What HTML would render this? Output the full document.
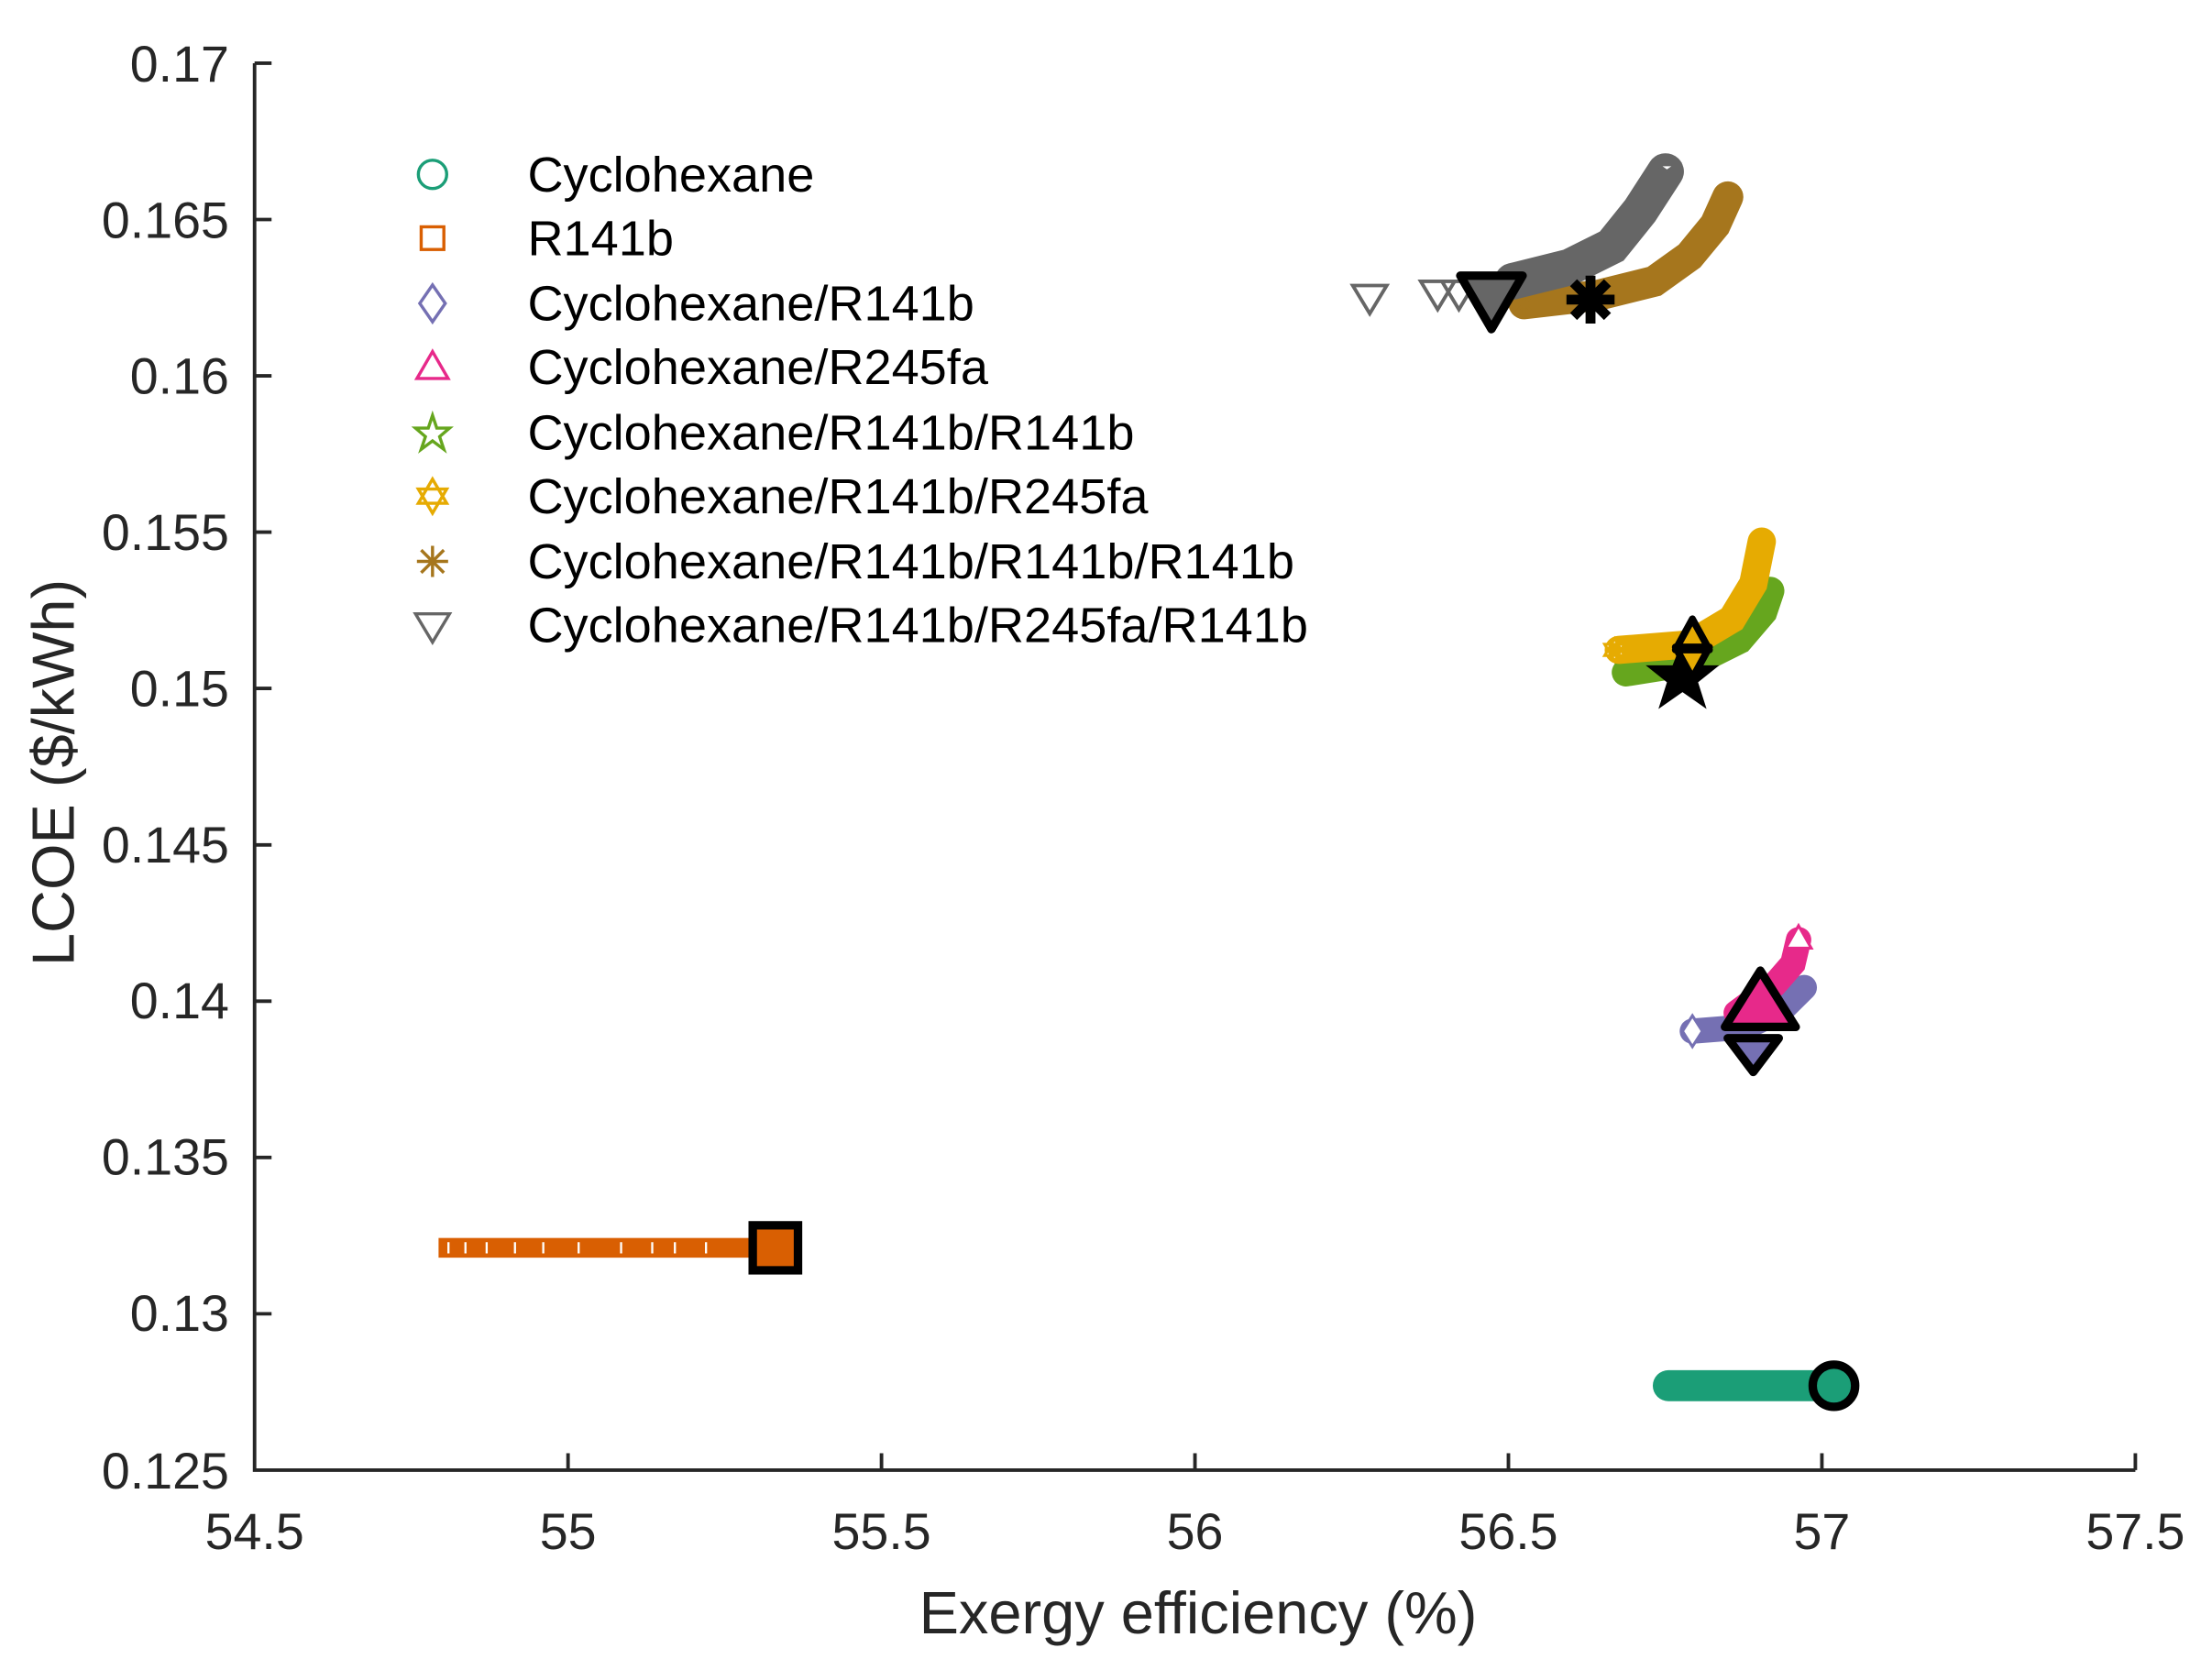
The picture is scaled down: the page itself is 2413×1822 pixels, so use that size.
<!DOCTYPE html>
<html><head><meta charset="utf-8"><style>html,body{margin:0;padding:0;background:#fff}svg{display:block}</style></head>
<body>
<svg width="2413" height="1822" viewBox="0 0 1560 1178" xmlns="http://www.w3.org/2000/svg" font-family="Liberation Sans, Arial, sans-serif">
<rect width="1560" height="1178" fill="#fff"/>
<g transform="matrix(0.99812 0 0 0.9924 -1.16 -0.06)">
<!-- axes -->
<g stroke="#262626" stroke-width="2.5" fill="none">
<path d="M181,45 V1045 H1510"/>
<path d="M181,45 h12 M181,156.1 h12 M181,267.2 h12 M181,378.3 h12 M181,489.4 h12 M181,600.6 h12 M181,711.7 h12 M181,822.8 h12 M181,933.9 h12"/>
<path d="M402.5,1045 v-12 M624,1045 v-12 M845.5,1045 v-12 M1067,1045 v-12 M1288.5,1045 v-12 M1510,1045 v-12"/>
</g>
<g fill="#262626" font-size="36" text-anchor="end">
<text x="163" y="58">0.17</text><text x="163" y="169">0.165</text><text x="163" y="280">0.16</text><text x="163" y="391">0.155</text><text x="163" y="502">0.15</text><text x="163" y="613">0.145</text><text x="163" y="724">0.14</text><text x="163" y="835">0.135</text><text x="163" y="946">0.13</text><text x="163" y="1058">0.125</text>
</g>
<g fill="#262626" font-size="36" text-anchor="middle">
<text x="181" y="1101">54.5</text><text x="402.5" y="1101">55</text><text x="624" y="1101">55.5</text><text x="845.5" y="1101">56</text><text x="1067" y="1101">56.5</text><text x="1288.5" y="1101">57</text><text x="1510" y="1101">57.5</text>
</g>

<!-- Cyclohexane -->
<path d="M1180,985 H1297" stroke="#1b9e77" stroke-width="22" stroke-linecap="round"/>
<circle cx="1297" cy="985" r="15" fill="#1b9e77" stroke="#000" stroke-width="6"/>
<!-- R141b -->
<rect x="311" y="880" width="238" height="14" fill="#d95f02"/>
<g stroke="#fff" stroke-width="1.5"><path d="M318,883v8M330,883v8M345,883v8M365,883v8M385,883v8M410,883v8M440,883v8M462,883v8M478,883v8M500,883v8"/></g>
<rect x="533" y="871" width="32" height="32" fill="#d95f02" stroke="#000" stroke-width="6"/>
<!-- Cyclohexane/R141b diamonds -->
<path d="M1197,733 L1235,730 L1260,718 L1276,702" stroke="#7570b3" stroke-width="18" fill="none" stroke-linecap="round"/>
<path d="M1197,722 l7,11 l-7,11 l-7,-11z" fill="#fff" stroke="#7570b3" stroke-width="2"/>
<!-- R245fa triangles -->
<path d="M1228,720 L1255,700 L1268,685 L1272,668" stroke="#e7298a" stroke-width="18" fill="none" stroke-linecap="round"/>
<path d="M1272,658 l9,16 h-18z" fill="#fff" stroke="#e7298a" stroke-width="2"/>
<path d="M1222,738 L1258,738 L1240,762 Z" fill="#7570b3" stroke="#000" stroke-width="6" stroke-linejoin="round"/>
<path d="M1245,690 L1270,730 L1220,730 Z" fill="#e7298a" stroke="#000" stroke-width="6" stroke-linejoin="round"/>
<!-- stars green -->
<path d="M1150,478 L1200,470 L1230,455 L1247,435 L1252,420" stroke="#66a61e" stroke-width="20" fill="none" stroke-linecap="round"/>
<!-- hexagram yellow -->
<path d="M1145,462 L1195,458 L1225,440 L1240,415 L1246,385" stroke="#e6ab02" stroke-width="20" fill="none" stroke-linecap="round"/>
<g fill="#fff" stroke="#e6ab02" stroke-width="2"><path d="M1142,454 l7,12 h-14z M1142,470 l7,-12 h-14z"/></g>
<path d="M1190,455 L1197,473 L1216,473 L1201,485 L1207,504 L1190,492 L1173,504 L1179,485 L1164,473 L1183,473 Z" fill="#000"/>
<path d="M1197,440 L1209,462 L1185,462Z M1197,482 L1209,460 L1185,460Z" fill="#e6ab02" stroke="#000" stroke-width="5" stroke-linejoin="round"/>
<!-- brown asterisks -->
<path d="M1078,216 L1130,210 L1170,200 L1195,182 L1213,160 L1222,140" stroke="#a6761d" stroke-width="22" fill="none" stroke-linecap="round"/>
<g stroke="#a6761d" stroke-width="2"><path d="M1078,208v16M1070,216h16M1072,210l12,12M1084,210l-12,12"/></g>
<!-- gray triangles -->
<path d="M1070,200 L1110,190 L1140,175 L1160,150 L1178,122" stroke="#666" stroke-width="26" fill="none" stroke-linecap="round"/>
<g fill="#fff" stroke="#666" stroke-width="2.5"><path d="M957,203 h24 l-12,20z M1005,200 h24 l-12,20z M1020,200 h24 l-12,20z M1172,117 h14 l-7,5z"/></g>
<path d="M1033,196 L1077,196 L1055,234 Z" fill="#666" stroke="#000" stroke-width="6" stroke-linejoin="round"/>
<g stroke="#000" stroke-width="7"><path d="M1125,196v34M1108,213h34M1113,201l24,24M1137,201l-24,24"/></g>
</g>

<text x="845" y="1152" font-size="42" text-anchor="middle" fill="#262626">Exergy efficiency (%)</text>
<text transform="translate(52,545) rotate(-90)" font-size="42" text-anchor="middle" fill="#262626">LCOE ($/kWh)</text>

<!-- legend -->
<g fill="none" stroke-width="2.2">
<circle cx="305" cy="123" r="10" stroke="#1b9e77"/>
<rect x="297" y="160" width="16" height="16" stroke="#d95f02"/>
<path d="M305,201 l9,13 l-9,13 l-9,-13z" stroke="#7570b3"/>
<path d="M305,248 l11,19 h-22z" stroke="#e7298a"/>
<path d="M305,293 L308,302 L317,302 L310,308 L313,317 L305,311 L297,317 L300,308 L293,302 L302,302 Z" stroke="#66a61e"/>
<path d="M305,338 l10,17 h-20z M305,362 l10,-17 h-20z" stroke="#e6ab02"/>
<path d="M305,385v22M294,396h22M297,388l16,16M313,388l-16,16" stroke="#a6761d"/>
<path d="M293,433 h24 l-12,20z" stroke="#666"/>
</g>
<g font-size="35" fill="#000">
<text x="372" y="135">Cyclohexane</text>
<text x="372" y="180">R141b</text>
<text x="372" y="226">Cyclohexane/R141b</text>
<text x="372" y="271">Cyclohexane/R245fa</text>
<text x="372" y="317">Cyclohexane/R141b/R141b</text>
<text x="372" y="362">Cyclohexane/R141b/R245fa</text>
<text x="372" y="408">Cyclohexane/R141b/R141b/R141b</text>
<text x="372" y="453">Cyclohexane/R141b/R245fa/R141b</text>
</g>
</svg>
</body></html>
